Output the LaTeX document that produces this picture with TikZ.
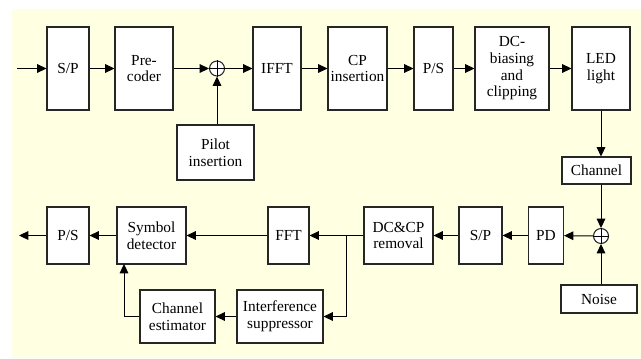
\documentclass[tikz,border=0pt]{standalone}
\usepackage{fontspec}
\setmainfont{Liberation Serif}
\usetikzlibrary{arrows.meta}
\definecolor{bgyellow}{RGB}{255,255,225}
\tikzset{
  bx/.style 2 args={draw=black!85, line width=0.8pt, fill=white, minimum width=#1*0.75pt, minimum height=#2*0.75pt, inner sep=0pt, align=center, font=\fontsize{11.5}{12.5}\selectfont},
  sumc/.style={draw=black!85, line width=0.8pt, fill=white, circle, minimum size=15*0.75pt, inner sep=0pt},
  arr/.style={line width=0.75pt, -{Triangle[length=7pt,width=6.5pt]}},
  ln/.style={line width=0.75pt}
}
\begin{document}
\begin{tikzpicture}[x=0.75pt,y=-0.75pt]
\useasboundingbox (0,0) rectangle (641,358);
\fill[bgyellow] (12,9) rectangle (641,358);
% top row
\node[bx={42}{83}] (sp1) at (68,68.5) {S/P};
\node[bx={58}{83}] (pre) at (144,68.5) {Pre-\\coder};
\node[sumc] (s1) at (217,68.5) {};
\node[bx={48}{83}] (ifft) at (277,68.5) {IFFT};
\node[bx={59}{83}] (cp) at (357.5,68.5) {CP\\insertion};
\node[bx={39}{83}] (ps1) at (433.5,68.5) {P/S};
\node[bx={74}{83}] (dc) at (512,68.5) {DC-\\biasing\\and\\clipping};
\node[bx={58}{83}] (led) at (601,68.5) {LED\\light};
\node[bx={77}{55}] (pilot) at (215.5,152.5) {Pilot\\insertion};
\node[bx={69}{27}] (ch) at (596.5,170.5) {Channel};
% bottom row
\node[sumc] (s2) at (601,236) {};
\node[bx={76}{28}] (noise) at (599,299) {Noise};
\node[bx={35}{57}] (pd) at (546,235.5) {PD};
\node[bx={43}{57}] (sp2) at (480.5,235.5) {S/P};
\node[bx={69}{57}] (dccp) at (398.5,235.5) {DC\&CP\\removal};
\node[bx={41}{57}] (fft) at (288.5,235.5) {FFT};
\node[bx={69}{57}] (sym) at (151.5,235.5) {Symbol\\detector};
\node[bx={42}{57}] (ps2) at (68,235.5) {P/S};
\node[bx={75}{53}] (chest) at (177.5,316.5) {Channel\\estimator};
\node[bx={86}{53}] (isup) at (280,316.5) {Interference\\suppressor};
% plus signs
\draw[ln] (s1.north) -- (s1.south) (s1.west) -- (s1.east);
\draw[ln] (s2.north) -- (s2.south) (s2.west) -- (s2.east);
% coordinates
\coordinate (in) at (17,68.5);
\coordinate (out) at (19,235.5);
\coordinate (br) at (346,235.5);
\coordinate (up) at (124,264);
% top connectors
\draw[arr] (in) -- (sp1);
\draw[arr] (sp1) -- (pre);
\draw[arr] (pre) -- (s1);
\draw[arr] (pilot.north -| s1) -- (s1);
\draw[arr] (s1) -- (ifft);
\draw[arr] (ifft) -- (cp);
\draw[arr] (cp) -- (ps1);
\draw[arr] (ps1) -- (dc);
\draw[arr] (dc) -- (led);
\draw[arr] (led) -- (led |- ch.north);
\draw[arr] (s2 |- ch.south) -- (s2);
\draw[arr] (s2 |- noise.north) -- (s2);
% bottom connectors
\draw[arr] (s2) -- (pd);
\draw[arr] (pd) -- (sp2);
\draw[arr] (sp2) -- (dccp);
\draw[arr] (dccp) -- (fft);
\draw[arr] (fft) -- (sym);
\draw[arr] (sym) -- (ps2);
\draw[arr] (ps2) -- (out);
\draw[arr] (br) |- (isup.east);
\draw[arr] (isup) -- (chest);
\draw[arr] (chest.west) -| (up);
\end{tikzpicture}
\end{document}
